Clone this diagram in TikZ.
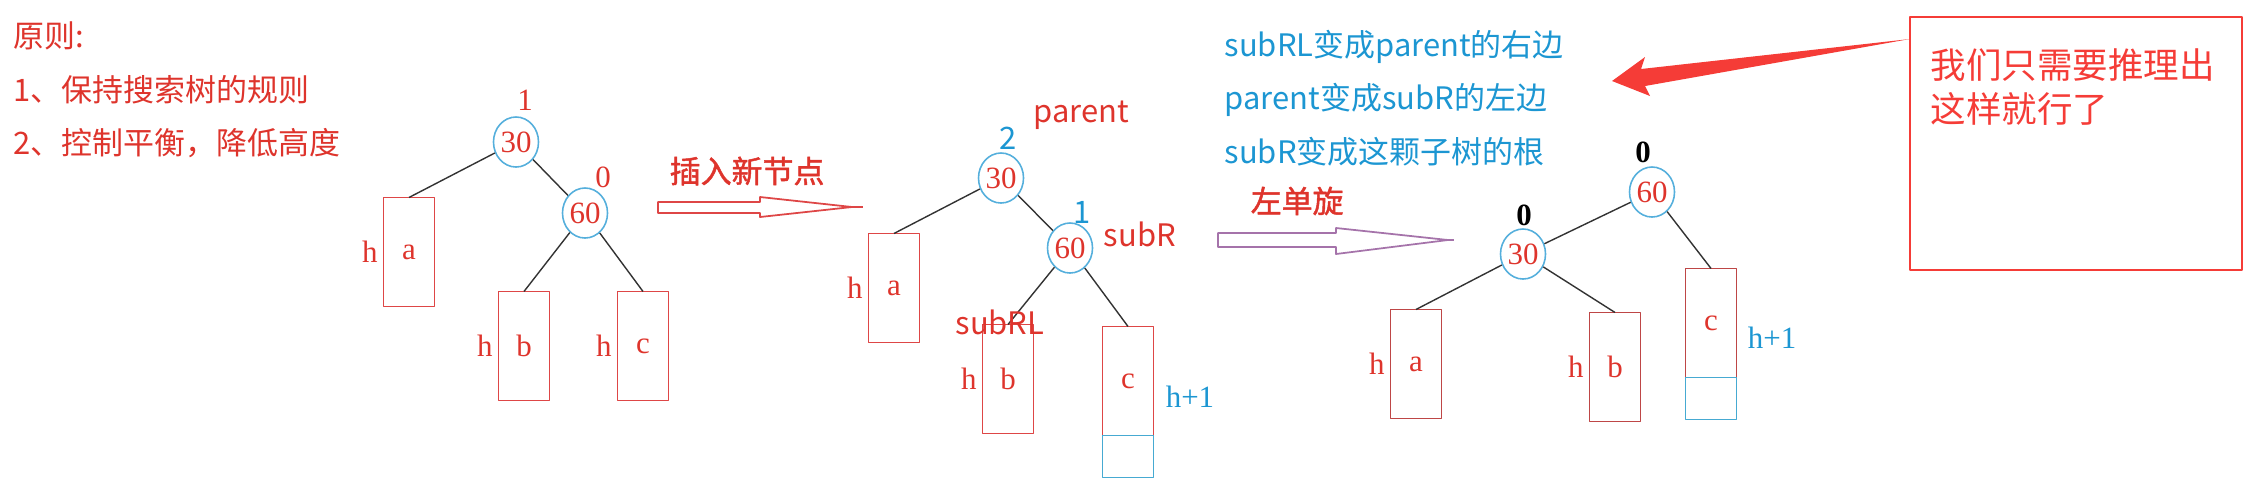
\documentclass[tikz,border=0pt]{standalone}
\usepackage{fontspec}
\setmainfont{Liberation Serif}
\newfontfamily\cjk{Noto Sans CJK SC}
\newfontfamily\cjkb[FakeBold=1.5]{Noto Sans CJK SC}
\usetikzlibrary{shapes.geometric,positioning}
\definecolor{txtred}{RGB}{222,52,44}
\definecolor{txtblue}{RGB}{28,150,210}
\definecolor{ringblue}{RGB}{85,175,220}
\definecolor{boxred}{RGB}{222,70,70}
\definecolor{boxdark}{RGB}{190,70,70}
\definecolor{boxblue}{RGB}{70,170,210}
\definecolor{arrpurple}{RGB}{165,115,170}
\definecolor{notered}{RGB}{245,60,55}
\newcommand{\txtsize}{\fontsize{8.8pt}{10.5pt}\selectfont}
\newcommand{\notesize}{\fontsize{10.1pt}{12.5pt}\selectfont}
\begin{document}
\begin{tikzpicture}[x=0.01cm, y=-0.01cm, line join=round, font=\txtsize,
	key/.style={ellipse, draw=ringblue, line width=0.45pt, text=txtred, minimum width=0.45cm, minimum height=0.5cm, inner sep=0pt},
	sub/.style={rectangle, draw=boxred, line width=0.5pt, text=txtred, minimum width=0.51cm, minimum height=1.09cm, inner sep=0pt, outer sep=0pt},
	extra/.style={rectangle, draw=boxblue, line width=0.5pt, minimum width=0.51cm, minimum height=0.42cm, inner sep=0pt, outer sep=0pt},
	hgt/.style={text=txtred, inner sep=1.5pt},
	note/.style={anchor=west, inner sep=0pt, font=\cjk\txtsize},
	edge/.style={draw=black!80, line width=0.4pt}]
	\useasboundingbox (0,0) rectangle (2264,487);
	% rules
	\node[note, text=txtred] (rule) at (13,36) {原则:};
	\node[note, text=txtred] (rule1) at (13,90) {1、保持搜索树的规则};
	\node[note, text=txtred] (rule2) at (13,143) {2、控制平衡，降低高度};
	% before insert
	\node[text=txtred] (w1) at (525,100) {1};
	\node[key] (t1) at (516,142) {30};
	\node[text=txtred] (w2) at (603,177) {0};
	\node[key] (r1) at (585,213) {60};
	\node[sub, label={[hgt]left:h}] (a1) at (409,252) {a};
	\node[sub, label={[hgt]left:h}] (b1) at (524,346) {b};
	\node[sub, label={[hgt]left:h}] (c1) at (643,346) {c};
	\draw[edge] (t1) -- (a1.north) (t1) -- (r1) (r1) -- (b1.north) (r1) -- (c1.north);
	% insert arrow
	\node[note, text=txtred, font=\cjkb\txtsize] (ins) at (669,171) {插入新节点};
	\draw[boxred, line width=0.5pt, fill=white] (658,202) -- (760,202) -- (760,197) -- (852,207) -- (760,217) -- (760,213) -- (658,213) -- cycle;
	\draw[boxred, line width=0.8pt] (852,207) -- (863,207);
	% after insert
	\node[text=txtred, font=\cjk\txtsize] (par) at (1081,115) {parent};
	\node[text=txtblue, font=\cjk\txtsize] (w3) at (1008,138) {2};
	\node[key] (t2) at (1001,178) {30};
	\node[text=txtblue, font=\cjk\txtsize] (w4) at (1082,212) {1};
	\node[text=txtred, font=\cjk\txtsize] (subR) at (1140,234) {subR};
	\node[key] (r2) at (1070,248) {60};
	\node[sub, label={[hgt]left:h}] (a2) at (894,288) {a};
	\node[sub, label={[hgt]left:h}] (b2) at (1008,379) {b};
	\node[sub] (c2) at (1128,381) {c};
	\node[extra, below=0pt of c2] (x2) {};
	\node[text=txtblue] (h2) at (1190,397) {h+1};
	\draw[edge] (t2) -- (a2.north) (t2) -- (r2) (r2) -- (b2.north) (r2) -- (c2.north);
	\node[text=txtred, font=\cjk\txtsize] (subRL) at (1000,322) {subRL};
	% rotate arrow
	\node[note, text=txtred, font=\cjkb\txtsize] (rot) at (1250,201) {左单旋};
	\draw[arrpurple, line width=0.5pt, fill=white] (1218,233) -- (1336,233) -- (1336,228) -- (1448,240) -- (1336,254) -- (1336,247) -- (1218,247) -- cycle;
	\draw[arrpurple, line width=0.8pt] (1448,240) -- (1454,240);
	% steps
	\node[note, text=txtblue] (step1) at (1224,47) {subRL变成parent的右边};
	\node[note, text=txtblue] (step2) at (1224,100) {parent变成subR的左边};
	\node[note, text=txtblue] (step3) at (1224,152) {subR变成这颗子树的根};
	% after rotation
	\node[font=\bfseries\txtsize] (w5) at (1643,152) {0};
	\node[key] (r3) at (1652,192) {60};
	\node[font=\bfseries\txtsize] (w6) at (1524,215) {0};
	\node[key] (t3) at (1523,254) {30};
	\node[sub, draw=boxdark, label={[hgt]left:h}] (a3) at (1416,364) {a};
	\node[sub, draw=boxdark, label={[hgt]left:h}] (b3) at (1615,367) {b};
	\node[sub, draw=boxdark] (c3) at (1711,323) {c};
	\node[extra, below=0pt of c3] (x3) {};
	\node[text=txtblue] (h3) at (1772,338) {h+1};
	\draw[edge] (r3) -- (t3) (t3) -- (a3.north) (t3) -- (b3.north) (r3) -- (c3.north);
	% remark
	\node[draw=notered, line width=0.6pt, minimum width=3.32cm, minimum height=2.53cm, inner sep=0pt] (box) at (2076,143.5) {};
	\node[anchor=north west, inner sep=0pt, text=notered, font=\cjk\notesize, align=left] (msg) at (1930,48) {我们只需要推理出\\这样就行了};
	\coordinate (tip) at (1612,81);
	\coordinate (tail) at (1910,39);
	\fill[notered] (tip) -- (1645,57) -- (1641,69) -- (tail) -- (1645,86) -- (1650,96) -- cycle;
\end{tikzpicture}
\end{document}
